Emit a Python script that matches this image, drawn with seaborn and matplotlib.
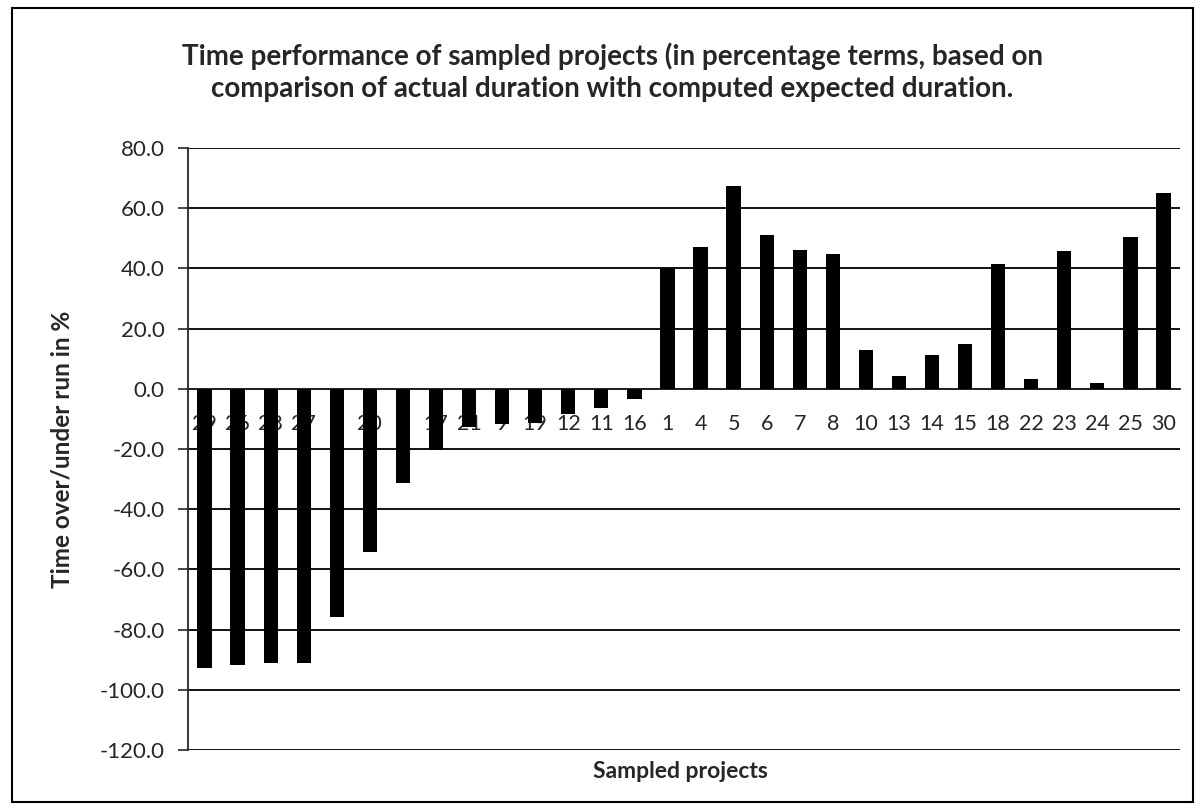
import matplotlib
matplotlib.use("Agg")
import matplotlib.pyplot as plt
import matplotlib.patches as patches
import seaborn as sns
import pandas as pd

# project ids in chart order (labels 5 and 7 hidden behind bars in the source)
projects = ["29", "26", "28", "27", "2", "20", "3", "17", "21", "9", "19", "12", "11", "16",
            "1", "4", "5", "6", "7", "8", "10", "13", "14", "15", "18", "22", "23", "24", "25", "30"]
overrun = [-92.8, -91.8, -91.2, -91.2, -75.8, -54.2, -31.3, -20.4, -12.8, -11.8, -11.3, -8.4, -6.3, -3.4,
           40.0, 47.2, 67.5, 51.2, 46.0, 44.7, 13.0, 4.2, 11.2, 14.9, 41.6, 3.1, 45.9, 1.9, 50.4, 65.0]
yticks = [80, 60, 40, 20, 0, -20, -40, -60, -80, -100, -120]

df = pd.DataFrame({"project": projects, "overrun": overrun})

sns.set_style("white")
plt.rcParams["font.family"] = ["Lato", "DejaVu Sans"]

fig = plt.figure(figsize=(12.03, 8.10), dpi=100)
ax = fig.add_axes([188 / 1203, 1 - 750 / 810, (1180 - 188) / 1203, (750 - 148) / 810])

sns.barplot(data=df, x="project", y="overrun", order=projects, color="black",
            width=0.43, saturation=1, edgecolor="black", linewidth=0, ax=ax, zorder=3)

ax.set_ylim(-120, 80)
ax.set_xlim(-0.5, len(projects) - 0.5)
ax.set_yticks(yticks)
ax.set_yticklabels([f"{v:.1f}" for v in yticks], fontsize=16)
ax.yaxis.grid(True, color="black", linewidth=1.3, zorder=0)
ax.set_axisbelow(True)

# category axis sits on the zero line, tick marks between categories
ax.spines["bottom"].set_position(("data", 0))
ax.spines["bottom"].set_linewidth(1.3)
ax.spines["left"].set_linewidth(1.3)
ax.spines["top"].set_visible(False)
ax.spines["right"].set_visible(False)
ax.tick_params(axis="x", which="major", length=0, labelsize=15.5, pad=18)
ax.set_xticks([i + 0.5 for i in range(len(projects))], minor=True)
ax.tick_params(axis="x", which="minor", length=7, width=1.2, direction="out")
ax.tick_params(axis="y", length=7, width=1.2, direction="out", left=True, pad=10)

ax.set_xlabel("")
ax.set_ylabel("Time over/under run in %", fontsize=17.5, fontweight="bold")
ax.yaxis.set_label_coords((74 - 188) / 992, 0.5)
fig.text(680 / 1203, 1 - 771 / 810, "Sampled projects", ha="center", va="center",
         fontsize=16.5, fontweight="bold")

fig.suptitle("Time performance of sampled projects (in percentage terms, based on\n"
             "comparison of actual duration with computed expected duration.",
             x=612 / 1203, y=1 - 42 / 810, va="top", fontsize=20, fontweight="bold",
             linespacing=1.3)

# outer chart border
fig.patches.append(patches.Rectangle((12 / 1203, 8 / 810), 1181 / 1203, 794 / 810,
                                     transform=fig.transFigure, fill=False,
                                     edgecolor="black", linewidth=1.5))

fig.savefig("out.png", dpi=100, facecolor="white")
